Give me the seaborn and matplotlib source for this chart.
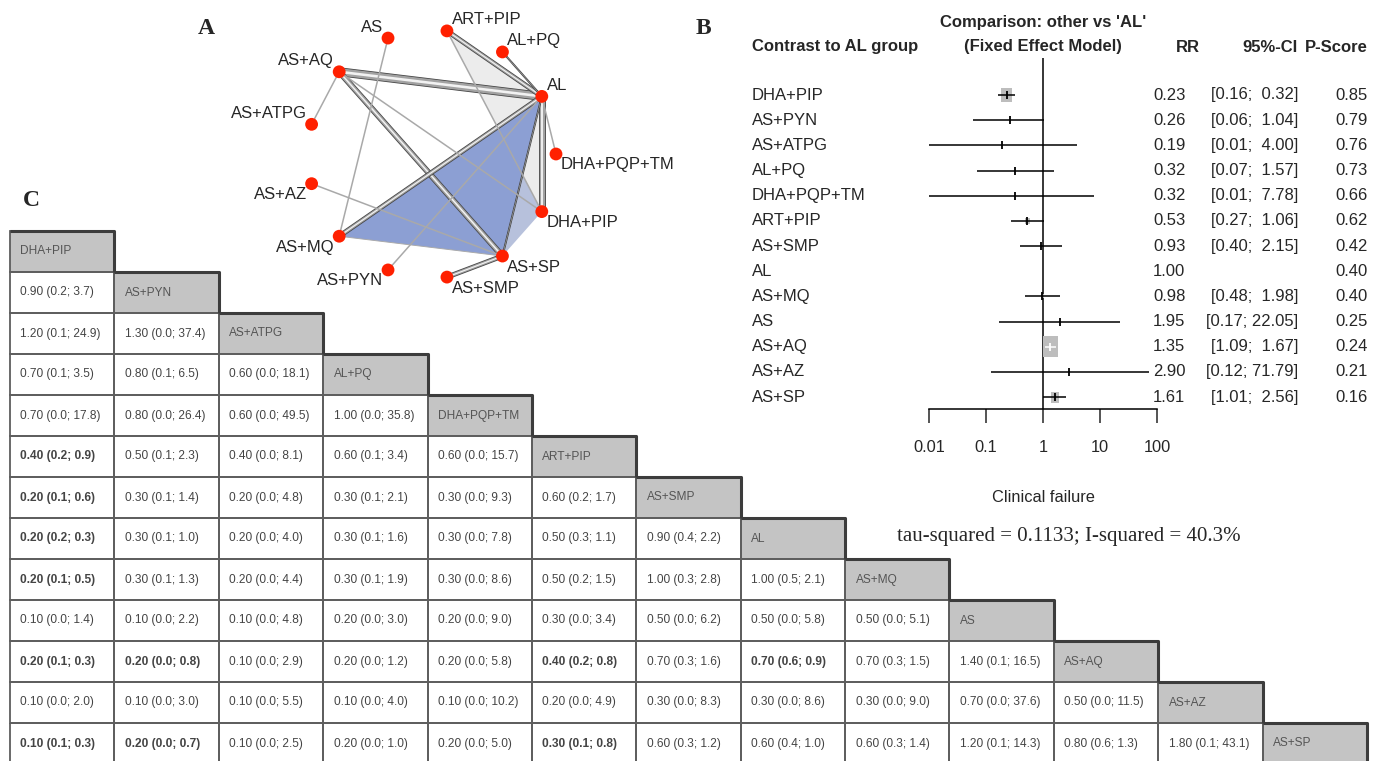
import numpy as np
import matplotlib
matplotlib.use('Agg')
import matplotlib.pyplot as plt
import matplotlib.transforms as mtransforms
from matplotlib.colors import ListedColormap
from matplotlib.patches import Polygon, Rectangle
from matplotlib.path import Path
from matplotlib import font_manager
import seaborn as sns

# ---------------- data ----------------
# league table order (panel C) and forest order (panel B)
treatments = ['DHA+PIP', 'AS+PYN', 'AS+ATPG', 'AL+PQ', 'DHA+PQP+TM', 'ART+PIP', 'AS+SMP',
              'AL', 'AS+MQ', 'AS', 'AS+AQ', 'AS+AZ', 'AS+SP']

# lower triangle of league table: (RR, lower, upper), row i vs column j
league = [
    [],
    [(0.90, 0.2, 3.7)],
    [(1.20, 0.1, 24.9), (1.30, 0.0, 37.4)],
    [(0.70, 0.1, 3.5), (0.80, 0.1, 6.5), (0.60, 0.0, 18.1)],
    [(0.70, 0.0, 17.8), (0.80, 0.0, 26.4), (0.60, 0.0, 49.5), (1.00, 0.0, 35.8)],
    [(0.40, 0.2, 0.9), (0.50, 0.1, 2.3), (0.40, 0.0, 8.1), (0.60, 0.1, 3.4), (0.60, 0.0, 15.7)],
    [(0.20, 0.1, 0.6), (0.30, 0.1, 1.4), (0.20, 0.0, 4.8), (0.30, 0.1, 2.1), (0.30, 0.0, 9.3),
     (0.60, 0.2, 1.7)],
    [(0.20, 0.2, 0.3), (0.30, 0.1, 1.0), (0.20, 0.0, 4.0), (0.30, 0.1, 1.6), (0.30, 0.0, 7.8),
     (0.50, 0.3, 1.1), (0.90, 0.4, 2.2)],
    [(0.20, 0.1, 0.5), (0.30, 0.1, 1.3), (0.20, 0.0, 4.4), (0.30, 0.1, 1.9), (0.30, 0.0, 8.6),
     (0.50, 0.2, 1.5), (1.00, 0.3, 2.8), (1.00, 0.5, 2.1)],
    [(0.10, 0.0, 1.4), (0.10, 0.0, 2.2), (0.10, 0.0, 4.8), (0.20, 0.0, 3.0), (0.20, 0.0, 9.0),
     (0.30, 0.0, 3.4), (0.50, 0.0, 6.2), (0.50, 0.0, 5.8), (0.50, 0.0, 5.1)],
    [(0.20, 0.1, 0.3), (0.20, 0.0, 0.8), (0.10, 0.0, 2.9), (0.20, 0.0, 1.2), (0.20, 0.0, 5.8),
     (0.40, 0.2, 0.8), (0.70, 0.3, 1.6), (0.70, 0.6, 0.9), (0.70, 0.3, 1.5), (1.40, 0.1, 16.5)],
    [(0.10, 0.0, 2.0), (0.10, 0.0, 3.0), (0.10, 0.0, 5.5), (0.10, 0.0, 4.0), (0.10, 0.0, 10.2),
     (0.20, 0.0, 4.9), (0.30, 0.0, 8.3), (0.30, 0.0, 8.6), (0.30, 0.0, 9.0), (0.70, 0.0, 37.6),
     (0.50, 0.0, 11.5)],
    [(0.10, 0.1, 0.3), (0.20, 0.0, 0.7), (0.10, 0.0, 2.5), (0.20, 0.0, 1.0), (0.20, 0.0, 5.0),
     (0.30, 0.1, 0.8), (0.60, 0.3, 1.2), (0.60, 0.4, 1.0), (0.60, 0.3, 1.4), (1.20, 0.1, 14.3),
     (0.80, 0.6, 1.3), (1.80, 0.1, 43.1)],
]

# forest plot (panel B): other vs AL
rr = [0.23, 0.26, 0.19, 0.32, 0.32, 0.53, 0.93, 1.00, 0.98, 1.95, 1.35, 2.90, 1.61]
ci_lo = [0.16, 0.06, 0.01, 0.07, 0.01, 0.27, 0.40, np.nan, 0.48, 0.17, 1.09, 0.12, 1.01]
ci_hi = [0.32, 1.04, 4.00, 1.57, 7.78, 1.06, 2.15, np.nan, 1.98, 22.05, 1.67, 71.79, 2.56]
p_score = [0.85, 0.79, 0.76, 0.73, 0.66, 0.62, 0.42, 0.40, 0.40, 0.25, 0.24, 0.21, 0.16]
weight = [14, 2, 1, 2, 1, 6, 3, 0, 4, 1, 21, 1, 11]   # relative square size
x_ticks = [0.01, 0.1, 1, 10, 100]

# network (panel A): edges (treatment a, treatment b, thickness)
edges = [('AS+AQ', 'AL', 9), ('AS+AQ', 'AS+SP', 6), ('AL', 'DHA+PIP', 7), ('ART+PIP', 'AL', 5),
         ('AS+SMP', 'AS+SP', 5), ('AL', 'AS+MQ', 5), ('AL', 'AS+SP', 2), ('AL+PQ', 'AL', 2),
         ('AS+AQ', 'AS+ATPG', 1), ('AS+AQ', 'DHA+PIP', 1), ('AS', 'AS+MQ', 1),
         ('ART+PIP', 'DHA+PIP', 1), ('AL', 'DHA+PQP+TM', 1), ('AS+PYN', 'AL', 1),
         ('AS+AZ', 'AS+SP', 1), ('AS+MQ', 'AS+SP', 0.6)]
# multi-arm trials shaded
multiarm = [(['AL', 'DHA+PIP', 'AS+SP'], '#b7c1dc'),
            (['ART+PIP', 'AL', 'DHA+PIP'], '#ececec'),
            (['AL', 'AS+MQ', 'AS+SP'], '#8c9fd3')]

# ---------------- fonts ----------------
sns.set_style('white')
names = {f.name for f in font_manager.fontManager.ttflist}
NARROW = 'Liberation Sans Narrow' if 'Liberation Sans Narrow' in names else 'Liberation Sans'
NSCALE = 1.0 if NARROW == 'Liberation Sans Narrow' else 0.84
plt.rcParams['font.family'] = ['Liberation Sans', 'DejaVu Sans']

W, H = 1383, 761
fig = plt.figure(figsize=(W / 100, H / 100), dpi=100)
fig.patch.set_facecolor('white')

def px_axes(x0, y0, x1, y1):
    """axes from pixel box (top-left origin)"""
    return fig.add_axes([x0 / W, (H - y1) / H, (x1 - x0) / W, (y1 - y0) / H])

# ---------------- C: league table ----------------
n = len(treatments)
ax_t = px_axes(10, 231, 1367, 231 + 41 * n)
vals = np.zeros((n, n))
np.fill_diagonal(vals, 1)
mask = np.triu(np.ones((n, n), dtype=bool), k=1)
labels = np.full((n, n), '', dtype=object)
bold = np.zeros((n, n), dtype=bool)
for i in range(n):
    labels[i, i] = treatments[i]
    for j, (e, lo, hi) in enumerate(league[i]):
        labels[i, j] = f'{e:.2f} ({lo:.1f}; {hi:.1f})'
        bold[i, j] = hi < 1 or lo > 1
sns.heatmap(vals, mask=mask, cmap=ListedColormap(['white', '#c4c4c4']), vmin=0, vmax=1,
            annot=labels, fmt='', cbar=False, linewidths=0,
            xticklabels=False, yticklabels=False, ax=ax_t,
            annot_kws={'family': NARROW, 'size': 10.2 * NSCALE})
for t in ax_t.texts:
    x, y = t.get_position()
    i, j = int(y), int(x)
    t.set_position((j + 0.1, y))
    t.set_ha('left')
    t.set_color('#555555' if i == j else '#444444')
    if bold[i, j]:
        t.set_fontweight('bold')
# cell borders of the lower triangle only
for i in range(n):
    for j in range(i + 1):
        ax_t.add_patch(Rectangle((j, i), 1, 1, fill=False, edgecolor='#5e5e5e', lw=1.3,
                                 clip_on=False))
# darker shadow on header cells (top + right)
for i in range(n):
    ax_t.plot([i, i + 1, i + 1], [i, i, i + 1], color='#3c3c3c', lw=2.2,
              solid_capstyle='butt', clip_on=False)
ax_t.patch.set_alpha(0)

# ---------------- overlay in pixel coordinates ----------------
ax0 = fig.add_axes([0, 0, 1, 1])
ax0.set_xlim(0, W)
ax0.set_ylim(H, 0)
ax0.axis('off')
ax0.patch.set_alpha(0)

serif = ['Liberation Serif', 'DejaVu Serif']
for lab, (lx, ly) in zip('ABC', [(206, 28), (703, 28), (31, 200)]):
    ax0.text(lx, ly, lab, family=serif, weight='bold', size=17, ha='center', va='center')

# ---------------- A: network ----------------
order = sorted(treatments)
cx, cy, rad = 432, 154, 124
ang = np.deg2rad(360 / n * (1 + np.arange(n)))
pos = {t: (cx + rad * np.cos(a), cy - rad * np.sin(a)) for t, a in zip(order, ang)}

for verts, col in multiarm:
    ax0.add_patch(Polygon([pos[v] for v in verts], closed=True, facecolor=col,
                          edgecolor='none', zorder=1))
for a, b, w in edges:
    xs = [pos[a][0], pos[b][0]]
    ys = [pos[a][1], pos[b][1]]
    if w < 2:
        ax0.plot(xs, ys, color='#a9a9a9', lw=1.1 * w, zorder=2, solid_capstyle='butt')
    else:
        # tube look: dark rim, grey body, light core
        ax0.plot(xs, ys, color='#454545', lw=0.72 * w, zorder=2, solid_capstyle='butt')
        ax0.plot(xs, ys, color='#a2a2a2', lw=0.72 * (w - 1.6), zorder=2, solid_capstyle='butt')
        ax0.plot(xs, ys, color='#f2f2f2', lw=0.72 * (w - 1.6) * 0.35, zorder=2,
                 solid_capstyle='butt')

node_x = [pos[t][0] for t in order]
node_y = [pos[t][1] for t in order]
sns.scatterplot(x=node_x, y=node_y, ax=ax0, s=85, color='#ff2000', edgecolor='none',
                zorder=4, legend=False)
for t, a in zip(order, ang):
    c, s = np.cos(a), np.sin(a)
    left = c < -0.01
    dx = -5 if left else 5
    dy = -11 if s >= 0 else 11
    ax0.text(pos[t][0] + dx, pos[t][1] + dy, t, ha='right' if left else 'left',
             va='center', size=12, zorder=5)
ax0.set_xlim(0, W)
ax0.set_ylim(H, 0)

# ---------------- B: forest plot ----------------
row0, drow = 95, 25.17
ax_f = px_axes(929, 58, 1157, 409)
ax_f.set_xscale('log')
ax_f.set_xlim(0.01, 100)
ax_f.set_ylim((409 - row0) / drow, (58 - row0) / drow)
ax_f.patch.set_alpha(0)
for sp in ['top', 'left', 'right']:
    ax_f.spines[sp].set_visible(False)
ax_f.spines['bottom'].set_linewidth(1.1)
ax_f.spines['bottom'].set_color('black')
ax_f.set_xticks(x_ticks)
ax_f.set_xticklabels([f'{v:g}' for v in x_ticks], family=NARROW, size=14 * NSCALE)
ax_f.minorticks_off()
ax_f.tick_params(axis='x', direction='out', length=10, width=1.1, pad=12, bottom=True)
ax_f.set_yticks([])
ax_f.axvline(1, color='black', lw=1.1, zorder=1)

idx = np.arange(n)
decade_px = (1157 - 929) / 4
rect = Path([(-0.37, -0.5), (0.37, -0.5), (0.37, 0.5), (-0.37, 0.5), (-0.37, -0.5)])
for i in idx:
    if weight[i] > 0:
        ax_f.scatter(rr[i], i, marker=rect, s=(weight[i] * 0.72) ** 2, color='#bdbdbd',
                     edgecolor='none', zorder=2)
    if not np.isnan(ci_lo[i]):
        half = 0.37 * weight[i] / decade_px
        inside = (np.log10(ci_lo[i]) > np.log10(rr[i]) - half and
                  np.log10(ci_hi[i]) < np.log10(rr[i]) + half)
        col = 'white' if inside else 'black'
        ax_f.hlines(i, ci_lo[i], ci_hi[i], color=col, lw=1.1, zorder=3)
        ax_f.scatter(rr[i], i, marker='|', s=30, color=col, linewidths=1.3, zorder=3)

# forest text columns: x in pixels, y in row units
tr = mtransforms.blended_transform_factory(ax0.transData, ax_f.transData)
fs = 14.3 * NSCALE
for i in idx:
    ax0.text(752, i, treatments[i], transform=tr, ha='left', va='center', family=NARROW, size=fs)
    ax0.text(1153, i, f'{rr[i]:.2f}', transform=tr, ha='left', va='center', family=NARROW, size=fs)
    if not np.isnan(ci_lo[i]):
        ax0.text(1298, i, f'[{ci_lo[i]:.2f}; {ci_hi[i]:5.2f}]', transform=tr, ha='right',
                 va='center', family=NARROW, size=fs)
    ax0.text(1368, i, f'{p_score[i]:.2f}', transform=tr, ha='right', va='center',
             family=NARROW, size=fs)

hkw = dict(family=NARROW, size=fs, weight='bold', va='center')
ax0.text(752, 47, 'Contrast to AL group', ha='left', **hkw)
ax0.text(1043, 22, "Comparison: other vs 'AL'", ha='center', **hkw)
ax0.text(1043, 47, '(Fixed Effect Model)', ha='center', **hkw)
ax0.text(1188, 47, 'RR', ha='center', **hkw)
ax0.text(1298, 47, '95%-CI', ha='right', **hkw)
ax0.text(1368, 47, 'P-Score', ha='right', **hkw)
ax0.text(1043, 497, 'Clinical failure', ha='center', va='center', family=NARROW, size=14 * NSCALE)
ax0.text(1069, 537, 'tau-squared = 0.1133; I-squared = 40.3%', ha='center', va='center',
         family=serif, size=15)

fig.savefig('out.png', dpi=100)
